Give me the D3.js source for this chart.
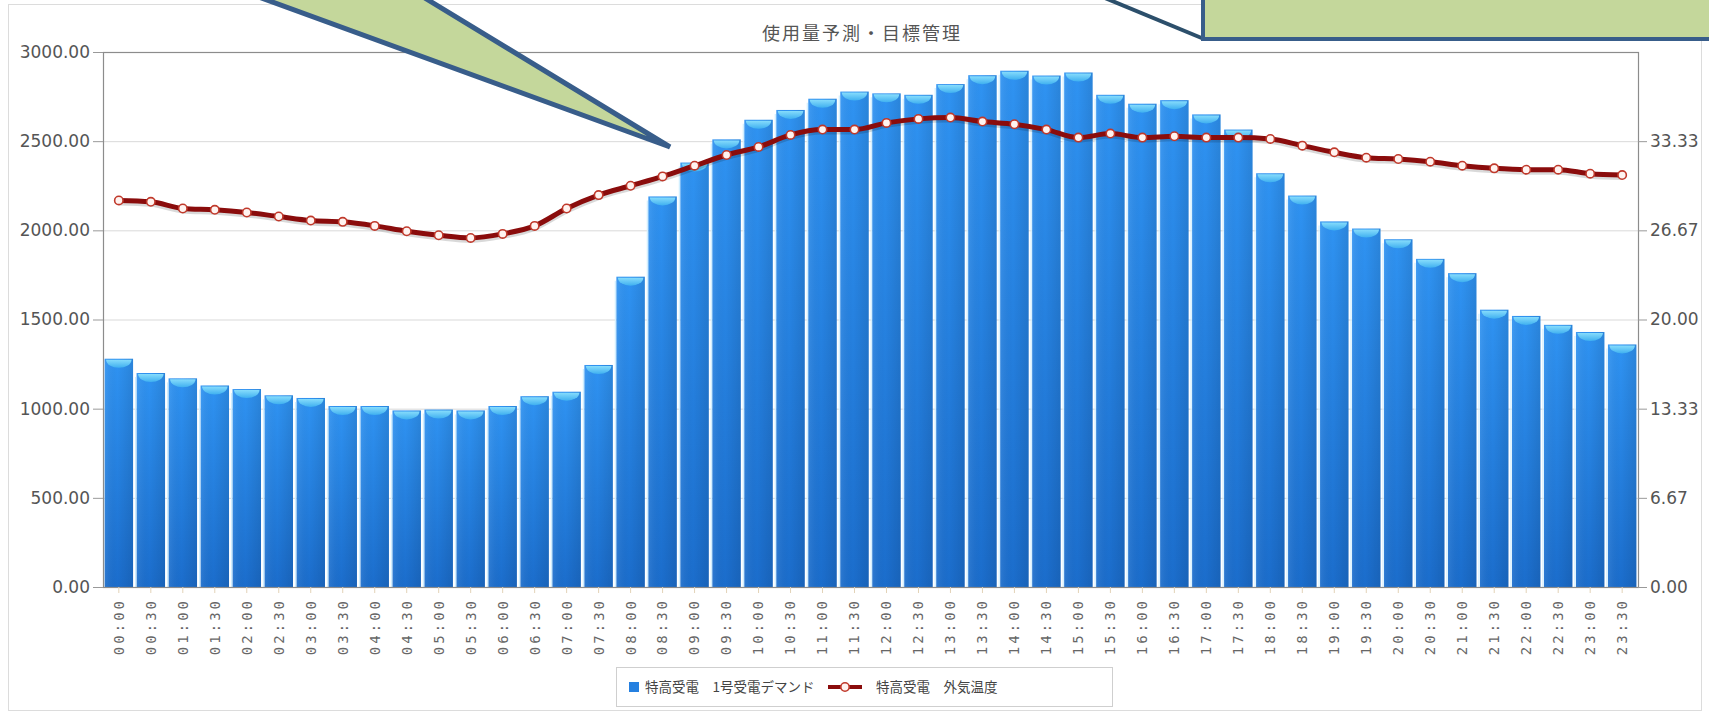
<!DOCTYPE html>
<html>
<head>
<meta charset="utf-8">
<script src="https://cdn.jsdelivr.net/npm/d3@7"></script>
<style>
    body { margin: 0; background: #fff; }
    svg { display: block; }
</style>
</head>
<body>
<svg id="chart" width="1709" height="716"></svg>
<script>
// 30 minute slots
var times = ['00:00', '00:30', '01:00', '01:30', '02:00', '02:30', '03:00', '03:30',
    '04:00', '04:30', '05:00', '05:30', '06:00', '06:30', '07:00', '07:30',
    '08:00', '08:30', '09:00', '09:30', '10:00', '10:30', '11:00', '11:30',
    '12:00', '12:30', '13:00', '13:30', '14:00', '14:30', '15:00', '15:30',
    '16:00', '16:30', '17:00', '17:30', '18:00', '18:30', '19:00', '19:30',
    '20:00', '20:30', '21:00', '21:30', '22:00', '22:30', '23:00', '23:30'];

// 特高受電 1号受電デマンド
var demand = [1280, 1200, 1170, 1130, 1110, 1075, 1060, 1015,
    1015, 990, 995, 990, 1015, 1070, 1095, 1245,
    1740, 2190, 2380, 2510, 2620, 2675, 2738, 2778,
    2768, 2760, 2820, 2870, 2895, 2868, 2885, 2760,
    2710, 2730, 2650, 2565, 2320, 2195, 2050, 2010,
    1950, 1840, 1760, 1555, 1520, 1470, 1430, 1360];

// 特高受電 外気温度
var temperature = [28.9, 28.8, 28.3, 28.2, 28.0, 27.7, 27.4, 27.3,
    27.0, 26.6, 26.3, 26.1, 26.4, 27.0, 28.3, 29.3,
    30.0, 30.7, 31.5, 32.3, 32.9, 33.8, 34.2, 34.2,
    34.7, 35.0, 35.1, 34.8, 34.6, 34.2, 33.6, 33.9,
    33.6, 33.7, 33.6, 33.6, 33.5, 33.0, 32.5, 32.1,
    32.0, 31.8, 31.5, 31.3, 31.2, 31.2, 30.9, 30.8];

var leftTicks = [0, 500, 1000, 1500, 2000, 2500, 3000];
var rightTicks = [0, 40 / 6, 80 / 6, 20, 160 / 6, 200 / 6];

var title = '使用量予測・目標管理';
var legendNames = ['特高受電　1号受電デマンド', '特高受電　外気温度'];

var svg = d3.select('#chart');
// plot box (window.top is reserved, so not "top")
var plotL = 103, plotR = 1638, plotT = 52, plotB = 587;

var x = d3.scaleBand().domain(times).range([plotL, plotR]).paddingInner(0.11).paddingOuter(0.05);
var y = d3.scaleLinear().domain([0, 3000]).range([plotB, plotT]);
var y2 = d3.scaleLinear().domain([0, 40]).range([plotB, plotT]);

// gradients
var defs = svg.append('defs');
var bg = defs.append('linearGradient').attr('id', 'barGrad').attr('x1', 0).attr('y1', 0).attr('x2', 0).attr('y2', 1);
bg.append('stop').attr('offset', '0%').attr('stop-color', '#2f93f2');
bg.append('stop').attr('offset', '100%').attr('stop-color', '#1b6dcc');
var sg = defs.append('linearGradient').attr('id', 'barSide').attr('x1', 0).attr('y1', 0).attr('x2', 1).attr('y2', 0);
sg.append('stop').attr('offset', '0%').attr('stop-color', '#ffffff').attr('stop-opacity', 0.08);
sg.append('stop').attr('offset', '45%').attr('stop-color', '#000000').attr('stop-opacity', 0.0);
sg.append('stop').attr('offset', '100%').attr('stop-color', '#000000').attr('stop-opacity', 0.1);
var cg = defs.append('linearGradient').attr('id', 'capGrad').attr('x1', 0).attr('y1', 0).attr('x2', 0).attr('y2', 1);
cg.append('stop').attr('offset', '0%').attr('stop-color', '#86dcfc');
cg.append('stop').attr('offset', '100%').attr('stop-color', '#3fb0f0');

// outer frame
svg.append('rect')
    .attr('x', 8.5).attr('y', 4.5).attr('width', 1693).attr('height', 706)
    .attr('fill', 'none').attr('stroke', '#dcdcdc');

// title
svg.append('text')
    .attr('x', 862).attr('y', 40)
    .attr('text-anchor', 'middle')
    .style('font-family', '"Noto Sans CJK JP", sans-serif')
    .style('font-size', '18px')
    .style('letter-spacing', '2px')
    .attr('fill', '#555')
    .text(title);

// grid
svg.append('g').selectAll('line')
    .data(leftTicks.slice(1))
    .enter().append('line')
    .attr('x1', plotL).attr('x2', plotR)
    .attr('y1', function (d) { return y(d) + 0.5; })
    .attr('y2', function (d) { return y(d) + 0.5; })
    .attr('stroke', '#d9d9d9');

// bars
var bw = x.bandwidth();
var bars = svg.append('g').selectAll('g')
    .data(demand)
    .enter().append('g');

bars.append('rect')
    .attr('x', function (d, i) { return x(times[i]); })
    .attr('y', function (d) { return y(d); })
    .attr('width', bw)
    .attr('height', function (d) { return plotB - y(d); })
    .attr('fill', 'url(#barGrad)');

bars.append('rect')
    .attr('x', function (d, i) { return x(times[i]); })
    .attr('y', function (d) { return y(d); })
    .attr('width', bw)
    .attr('height', function (d) { return plotB - y(d); })
    .attr('fill', 'url(#barSide)');

// light edge left of each bar
bars.append('line')
    .attr('x1', function (d, i) { return x(times[i]) - 1; })
    .attr('x2', function (d, i) { return x(times[i]) - 1; })
    .attr('y1', function (d) { return y(d) + 4; })
    .attr('y2', plotB)
    .attr('stroke', '#cfeeff').attr('stroke-width', 1.2);

// top cap
bars.append('path')
    .attr('d', function (d, i) {
        var x0 = x(times[i]) + 1.5, x1 = x(times[i]) + bw - 1.5, yy = y(d) + 1;
        return 'M' + x0 + ',' + yy + 'L' + x1 + ',' + yy +
            'A' + ((x1 - x0) / 2) + ',8 0 0 1 ' + x0 + ',' + yy + 'Z';
    })
    .attr('fill', 'url(#capGrad)');

// frame of plot
svg.append('rect')
    .attr('x', plotL + 0.5).attr('y', plotT + 0.5)
    .attr('width', plotR - plotL).attr('height', plotB - plotT)
    .attr('fill', 'none').attr('stroke', '#8c8c8c').attr('stroke-width', 1.2);

// axes
var fmt = function (d) { return d.toFixed(2); };
var axisStyle = function (g) {
    g.select('.domain').remove();
    g.selectAll('line').attr('stroke', '#999');
    g.selectAll('text')
        .attr('fill', '#555')
        .style('font-family', '"DejaVu Sans", Verdana, sans-serif')
        .style('font-size', '17px');
};

svg.append('g')
    .attr('transform', 'translate(' + plotL + ',0)')
    .call(d3.axisLeft(y).tickValues(leftTicks).tickFormat(fmt).tickSize(10).tickPadding(3))
    .call(axisStyle);

svg.append('g')
    .attr('transform', 'translate(' + plotR + ',0)')
    .call(d3.axisRight(y2).tickValues(rightTicks).tickFormat(fmt).tickSize(9).tickPadding(3))
    .call(axisStyle);

var xg = svg.append('g')
    .attr('transform', 'translate(0,' + plotB + ')')
    .call(d3.axisBottom(x).tickSize(6).tickPadding(0));
xg.select('.domain').remove();
xg.selectAll('line').attr('stroke', '#e3d3b8');
xg.selectAll('text')
    .attr('transform', 'rotate(-90)')
    .attr('text-anchor', 'end')
    .attr('x', -11).attr('y', 0).attr('dy', '0.35em')
    .attr('fill', '#666')
    .style('font-family', '"DejaVu Sans Mono", monospace')
    .style('font-size', '14px')
    .style('letter-spacing', '3px');

// temperature line
var line = d3.line()
    .x(function (d, i) { return x(times[i]) + bw / 2; })
    .y(function (d) { return y2(d); })
    .curve(d3.curveMonotoneX);

svg.append('path')
    .attr('d', line(temperature))
    .attr('transform', 'translate(0,2)')
    .attr('fill', 'none')
    .attr('stroke', '#000').attr('stroke-opacity', 0.15)
    .attr('stroke-width', 6);

svg.append('path')
    .attr('d', line(temperature))
    .attr('fill', 'none')
    .attr('stroke', '#8a0c0c')
    .attr('stroke-width', 5);

svg.append('g').selectAll('circle')
    .data(temperature)
    .enter().append('circle')
    .attr('cx', function (d, i) { return x(times[i]) + bw / 2; })
    .attr('cy', function (d) { return y2(d); })
    .attr('r', 4.2)
    .attr('fill', '#fff3f0')
    .attr('stroke', '#c0392b')
    .attr('stroke-width', 1.6);

// legend
var lg = svg.append('g');
lg.append('rect')
    .attr('x', 616.5).attr('y', 667.5).attr('width', 496).attr('height', 39)
    .attr('fill', '#fff').attr('stroke', '#cfcfcf');
lg.append('rect')
    .attr('x', 629).attr('y', 682).attr('width', 10).attr('height', 10)
    .attr('fill', '#2580e0');
lg.append('text')
    .attr('x', 645).attr('y', 692)
    .style('font-family', '"Noto Sans CJK JP", sans-serif')
    .style('font-size', '13.5px')
    .attr('fill', '#444')
    .text(legendNames[0]);
lg.append('line')
    .attr('x1', 828).attr('x2', 862).attr('y1', 687).attr('y2', 687)
    .attr('stroke', '#8a0c0c').attr('stroke-width', 4);
lg.append('circle')
    .attr('cx', 845).attr('cy', 687).attr('r', 4.2)
    .attr('fill', '#fff3f0').attr('stroke', '#c0392b').attr('stroke-width', 1.6);
lg.append('text')
    .attr('x', 876).attr('y', 692)
    .style('font-family', '"Noto Sans CJK JP", sans-serif')
    .style('font-size', '13.5px')
    .attr('fill', '#444')
    .text(legendNames[1]);

// callout shapes laid over the chart
svg.append('polygon')
    .attr('points', '245,-8 415,-8 670,147')
    .attr('fill', '#c4d79b')
    .attr('stroke', '#385d8a')
    .attr('stroke-width', 5)
    .attr('stroke-linejoin', 'miter');

svg.append('line')
    .attr('x1', 1105).attr('y1', -2).attr('x2', 1204).attr('y2', 39)
    .attr('stroke', '#2c4f6b').attr('stroke-width', 4);

svg.append('rect')
    .attr('x', 1203).attr('y', -10).attr('width', 520).attr('height', 49)
    .attr('fill', '#c4d79b')
    .attr('stroke', '#385d8a')
    .attr('stroke-width', 4);
</script>
</body>
</html>
